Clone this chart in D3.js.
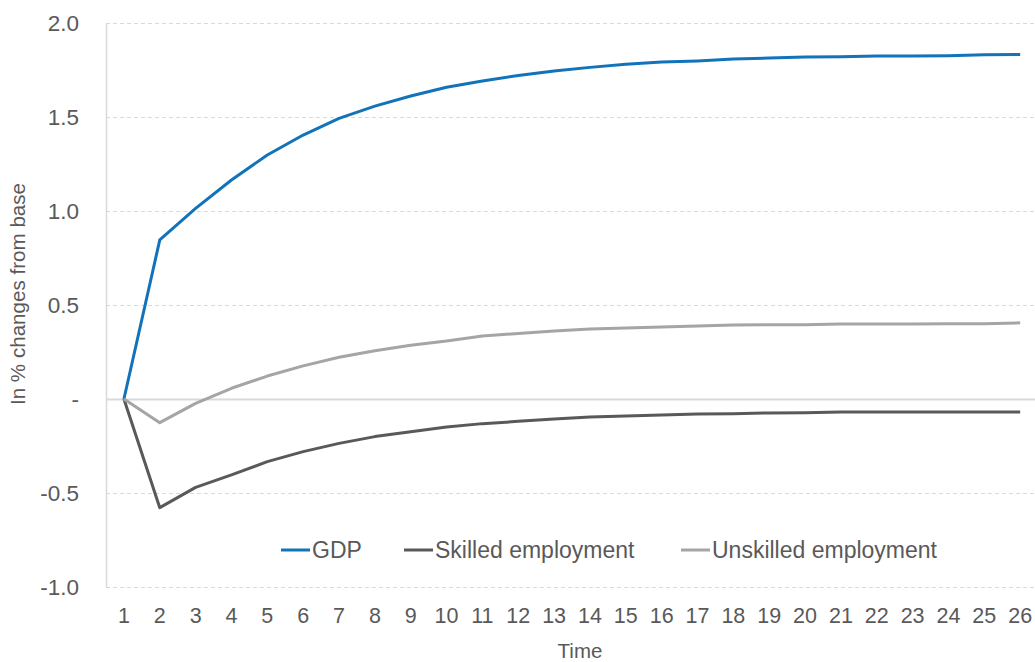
<!DOCTYPE html>
<html>
<head>
<meta charset="utf-8">
<script src="https://cdn.jsdelivr.net/npm/d3@7"></script>
<style>
  html, body { margin: 0; padding: 0; background: #fff; }
  svg { display: block; font-family: "Liberation Sans", Arial, sans-serif; }
</style>
</head>
<body>
<svg id="chart" width="1035" height="662"></svg>
<script>
const periods = [1,2,3,4,5,6,7,8,9,10,11,12,13,14,15,16,17,18,19,20,21,22,23,24,25,26];
const gdp = [0, 0.846, 1.014, 1.165, 1.298, 1.404, 1.493, 1.558, 1.612, 1.658, 1.691, 1.721, 1.745, 1.764, 1.781, 1.792, 1.798, 1.808, 1.814, 1.819, 1.820, 1.824, 1.825, 1.826, 1.831, 1.832];
const skilled = [0, -0.578, -0.470, -0.404, -0.333, -0.280, -0.236, -0.200, -0.174, -0.149, -0.131, -0.119, -0.106, -0.096, -0.090, -0.085, -0.080, -0.079, -0.074, -0.073, -0.069, -0.069, -0.069, -0.069, -0.069, -0.069];
const unskilled = [0, -0.126, -0.023, 0.057, 0.122, 0.176, 0.222, 0.257, 0.286, 0.309, 0.335, 0.349, 0.362, 0.372, 0.378, 0.383, 0.388, 0.394, 0.395, 0.395, 0.399, 0.399, 0.399, 0.400, 0.400, 0.405];
const yTicks = [-1.0, -0.5, 0, 0.5, 1.0, 1.5, 2.0];
const seriesNames = ["GDP", "Skilled employment", "Unskilled employment"];
const seriesColors = ["#1273ba", "#595959", "#a5a5a5"];
const yTitle = "In % changes from base";
const xTitle = "Time";

const series = [gdp, skilled, unskilled];
const svg = d3.select("#chart");
const plotLeft = 106, plotTop = 23, plotBottom = 587;
const textColor = "#595959";

const x = d3.scalePoint().domain(periods).range([plotLeft, plotLeft + 26 * 35.85]).padding(0.5);
const y = d3.scaleLinear().domain([-1, 2]).range([plotBottom, plotTop]);

// gridlines
svg.append("g").selectAll("line").data(yTicks).join("line")
  .attr("x1", plotLeft).attr("x2", 1035)
  .attr("y1", d => Math.round(y(d)) + 0.5).attr("y2", d => Math.round(y(d)) + 0.5)
  .attr("stroke", "#d9d9d9")
  .attr("stroke-width", d => d === 0 ? 2 : 1.2)
  .attr("stroke-dasharray", d => d === 0 ? null : "4,3");

// left axis line
svg.append("line")
  .attr("x1", plotLeft + 0.5).attr("x2", plotLeft + 0.5)
  .attr("y1", plotTop).attr("y2", plotBottom)
  .attr("stroke", "#d9d9d9").attr("stroke-width", 1.5);

// y tick labels
svg.append("g").selectAll("text").data(yTicks).join("text")
  .attr("x", 79).attr("y", d => y(d) + 8)
  .attr("text-anchor", "end")
  .attr("font-size", 22.5).attr("fill", textColor)
  .text(d => d === 0 ? "-" : d.toFixed(1));

// x tick labels
svg.append("g").selectAll("text").data(periods).join("text")
  .attr("x", d => x(d)).attr("y", 623)
  .attr("text-anchor", "middle")
  .attr("font-size", 21.5).attr("fill", textColor)
  .text(d => d);

// axis titles
svg.append("text")
  .attr("x", 580).attr("y", 658)
  .attr("text-anchor", "middle")
  .attr("font-size", 20.5).attr("fill", textColor)
  .text(xTitle);

svg.append("text")
  .attr("transform", "translate(25,294) rotate(-90)")
  .attr("text-anchor", "middle")
  .attr("font-size", 20.6).attr("fill", textColor)
  .text(yTitle);

// lines
const line = d3.line()
  .x((d, i) => x(periods[i]))
  .y(d => y(d));

svg.append("g").selectAll("path").data(series).join("path")
  .attr("d", d => line(d))
  .attr("fill", "none")
  .attr("stroke", (d, i) => seriesColors[i])
  .attr("stroke-width", 3)
  .attr("stroke-linejoin", "round");

// legend
const legendX = [281, 404, 681];
const lg = svg.append("g").selectAll("g").data(seriesNames).join("g")
  .attr("transform", (d, i) => `translate(${legendX[i]},550)`);
lg.append("line")
  .attr("x1", 0).attr("x2", 29).attr("y1", 0).attr("y2", 0)
  .attr("stroke", (d, i) => seriesColors[i]).attr("stroke-width", 3);
lg.append("text")
  .attr("x", 31).attr("y", 8)
  .attr("font-size", 23).attr("fill", textColor)
  .text(d => d);
</script>
</body>
</html>
